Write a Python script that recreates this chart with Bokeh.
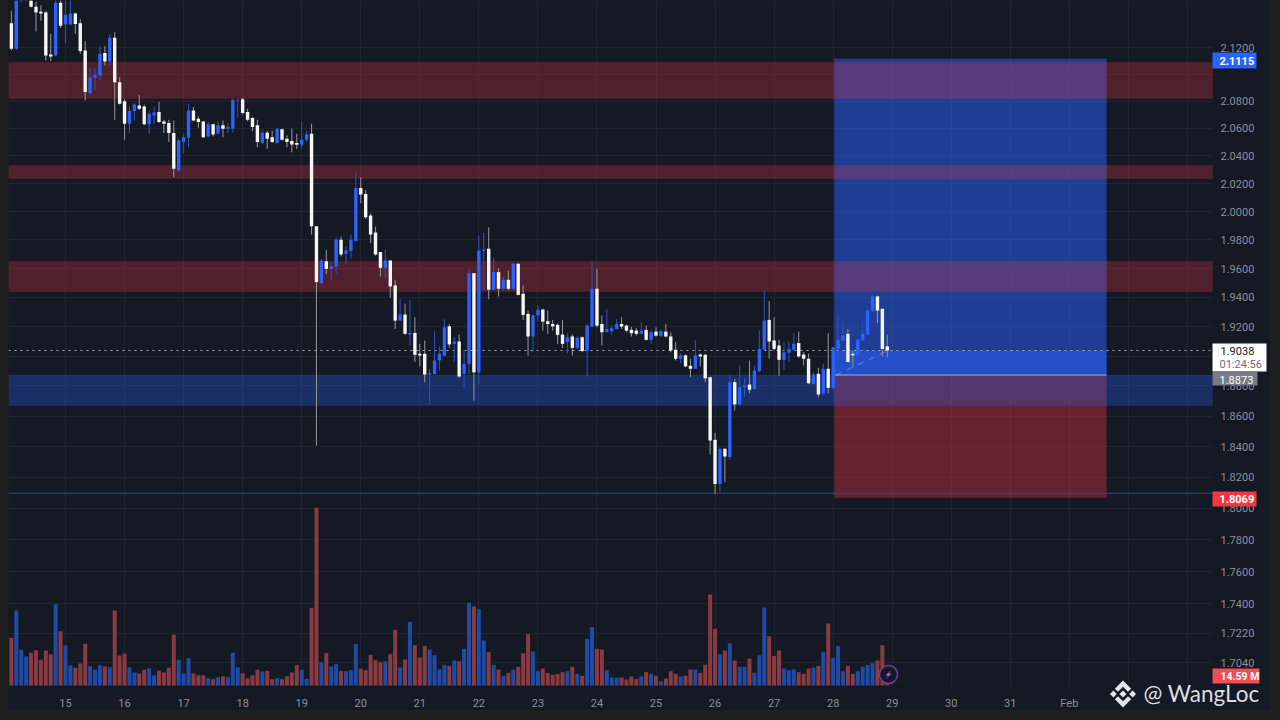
import math
from bokeh.embed import file_html
from bokeh.models import (BoxAnnotation, ColumnDataSource, FixedTicker, Label,
                          LinearScale, NumeralTickFormatter, PolyAnnotation, Range1d)
from bokeh.plotting import figure
from bokeh.resources import INLINE

# ---------- data: 2-hour candles, first candle is 11 bars before the 15th ----------
first_bar = -11
bars_per_day = 12
opens = [2.1383,2.1190,2.1553,2.1600,2.1580,2.1508,2.1470,2.1465,2.1148,2.1140,
 2.1540,2.1373,2.1373,2.1458,2.1383,2.1178,2.0859,2.0973,2.0990,2.1158,
 2.1095,2.1273,2.0941,2.0800,2.0634,2.0727,2.0768,2.0761,2.0630,2.0695,
 2.0720,2.0651,2.0639,2.0566,2.0294,2.0500,2.0532,2.0732,2.0671,2.0651,
 2.0541,2.0630,2.0561,2.0622,2.0598,2.0598,2.0805,2.0815,2.0720,2.0676,
 2.0622,2.0493,2.0568,2.0536,2.0493,2.0593,2.0524,2.0507,2.0493,2.0481,
 2.0517,2.0561,1.9897,1.9499,1.9651,1.9598,1.9614,1.9801,1.9703,1.9722,
 1.9792,2.0169,2.0126,1.9972,1.9853,1.9715,1.9605,1.9656,1.9483,1.9241,
 1.9283,1.9146,1.9157,1.9016,1.9016,1.8876,1.8880,1.8971,1.9005,1.9202,
 1.9083,1.9099,1.8880,1.8948,1.9568,1.8891,1.9722,1.9738,1.9453,1.9575,
 1.9460,1.9522,1.9460,1.9633,1.9425,1.9287,1.9133,1.9276,1.9317,1.9237,
 1.9218,1.9212,1.9146,1.9094,1.9133,1.9056,1.9128,1.9034,1.9200,1.9460,
 1.9218,1.9162,1.9169,1.9184,1.9218,1.9207,1.9178,1.9173,1.9151,1.9178,
 1.9110,1.9166,1.9137,1.9166,1.9133,1.9043,1.8982,1.9005,1.8935,1.8915,
 1.9011,1.9009,1.8858,1.8444,1.8157,1.8385,1.8331,1.8825,1.8677,1.8791,
 1.8809,1.8780,1.8899,1.9043,1.9246,1.9106,1.9072,1.8975,1.9023,1.9043,
 1.9088,1.9011,1.8982,1.8813,1.8881,1.8747,1.8915,1.8787,1.9049,1.9106,
 1.9151,1.9016,1.9005,1.9106,1.9146,1.9306,1.9407,1.9322,1.9066]
closes = [2.1190,2.1583,2.1628,2.1700,2.1508,2.1465,2.1458,2.1140,2.1133,2.1540,
 2.1365,2.1448,2.1458,2.1378,2.1173,2.0867,2.0973,2.0993,2.1153,2.1095,
 2.1273,2.0941,2.0780,2.0634,2.0727,2.0776,2.0744,2.0630,2.0707,2.0717,
 2.0646,2.0634,2.0566,2.0306,2.0512,2.0536,2.0732,2.0658,2.0646,2.0536,
 2.0630,2.0556,2.0622,2.0598,2.0610,2.0810,2.0810,2.0712,2.0663,2.0610,
 2.0500,2.0568,2.0524,2.0500,2.0598,2.0517,2.0500,2.0483,2.0481,2.0517,
 2.0556,1.9897,1.9506,1.9656,1.9598,1.9614,1.9804,1.9698,1.9726,1.9801,
 2.0169,2.0122,1.9960,1.9839,1.9698,1.9605,1.9656,1.9476,1.9241,1.9283,
 1.9151,1.9157,1.9009,1.9005,1.8876,1.8885,1.8971,1.9016,1.9196,1.9079,
 1.9099,1.8863,1.8948,1.9568,1.8891,1.9726,1.9731,1.9453,1.9575,1.9460,
 1.9522,1.9460,1.9633,1.9418,1.9280,1.9133,1.9276,1.9315,1.9234,1.9218,
 1.9202,1.9144,1.9083,1.9128,1.9056,1.9124,1.9034,1.9207,1.9460,1.9207,
 1.9162,1.9184,1.9189,1.9218,1.9200,1.9173,1.9155,1.9151,1.9173,1.9110,
 1.9162,1.9139,1.9169,1.9133,1.9038,1.8982,1.9005,1.8931,1.8915,1.9005,
 1.8998,1.8851,1.8439,1.8157,1.8385,1.8335,1.8825,1.8677,1.8791,1.8802,
 1.8774,1.8903,1.9049,1.9241,1.9099,1.9049,1.8975,1.9027,1.9049,1.9083,
 1.8998,1.8982,1.8818,1.8877,1.8743,1.8915,1.8787,1.9060,1.9110,1.9140,
 1.8960,1.9005,1.9110,1.9151,1.9310,1.9407,1.9310,1.9049,1.9038]
highs = [2.1478,2.1615,2.1700,2.1780,2.1615,2.1548,2.1520,2.1478,2.1303,2.1565,
 2.1590,2.1578,2.1565,2.1465,2.1415,2.1248,2.1048,2.1045,2.1210,2.1210,
 2.1303,2.1315,2.0978,2.0817,2.0761,2.0785,2.0846,2.0776,2.0732,2.0761,
 2.0795,2.0663,2.0663,2.0658,2.0524,2.0561,2.0781,2.0756,2.0688,2.0653,
 2.0646,2.0634,2.0653,2.0658,2.0639,2.0817,2.0812,2.0825,2.0744,2.0683,
 2.0663,2.0590,2.0580,2.0585,2.0605,2.0598,2.0549,2.0598,2.0561,2.0653,
 2.0585,2.0634,1.9897,1.9666,1.9731,1.9644,1.9815,1.9825,1.9754,1.9839,
 2.0287,2.0246,2.0155,1.9988,1.9895,1.9715,1.9731,1.9656,1.9522,1.9391,
 1.9356,1.9384,1.9264,1.9083,1.9105,1.8915,1.9169,1.9065,1.9250,1.9218,
 1.9128,1.9146,1.9043,1.9591,1.9568,1.9831,1.9850,1.9890,1.9674,1.9602,
 1.9540,1.9586,1.9637,1.9637,1.9483,1.9310,1.9283,1.9343,1.9322,1.9310,
 1.9246,1.9223,1.9246,1.9155,1.9146,1.9133,1.9133,1.9218,1.9644,1.9598,
 1.9276,1.9322,1.9207,1.9253,1.9264,1.9214,1.9200,1.9191,1.9230,1.9207,
 1.9173,1.9196,1.9178,1.9218,1.9162,1.9095,1.9020,1.9011,1.8982,1.9110,
 1.9020,1.9016,1.8862,1.8488,1.8396,1.8391,1.8873,1.8847,1.8935,1.8854,
 1.8971,1.8937,1.9173,1.9448,1.9375,1.9264,1.9110,1.9095,1.9099,1.9155,
 1.9166,1.9027,1.9016,1.8892,1.8922,1.8948,1.9155,1.9060,1.9283,1.9246,
 1.9184,1.9038,1.9117,1.9241,1.9322,1.9414,1.9414,1.9322,1.9146]
lows = [2.1178,2.1183,2.1545,2.1580,2.1503,2.1323,2.1403,2.1103,2.1098,2.1133,
 2.1348,2.1233,2.1373,2.1303,2.1153,2.0805,2.0849,2.0879,2.0953,2.1065,
 2.1065,2.0663,2.0775,2.0517,2.0566,2.0658,2.0737,2.0622,2.0561,2.0630,
 2.0639,2.0566,2.0500,2.0246,2.0282,2.0420,2.0463,2.0653,2.0605,2.0529,
 2.0536,2.0541,2.0556,2.0536,2.0566,2.0566,2.0678,2.0702,2.0653,2.0580,
 2.0463,2.0483,2.0451,2.0493,2.0488,2.0512,2.0463,2.0427,2.0449,2.0451,
 2.0500,1.9838,1.8406,1.9490,1.9563,1.9517,1.9563,1.9684,1.9633,1.9668,
 1.9792,2.0060,1.9948,1.9778,1.9690,1.9545,1.9529,1.9398,1.9184,1.9237,
 1.9146,1.9072,1.8960,1.8930,1.8825,1.8676,1.8876,1.8903,1.8998,1.9056,
 1.8960,1.8854,1.8787,1.8880,1.8702,1.8813,1.9448,1.9387,1.9448,1.9407,
 1.9448,1.9448,1.9453,1.9414,1.9246,1.9005,1.9027,1.9241,1.9173,1.9151,
 1.9173,1.9083,1.9056,1.9020,1.9005,1.9050,1.9027,1.8863,1.9196,1.9196,
 1.9072,1.9162,1.9146,1.9180,1.9184,1.9162,1.9133,1.9140,1.9146,1.9106,
 1.9083,1.9133,1.9128,1.9128,1.9027,1.8971,1.8953,1.8926,1.8858,1.8915,
 1.8931,1.8824,1.8348,1.8092,1.8110,1.8168,1.8315,1.8637,1.8670,1.8725,
 1.8752,1.8774,1.8892,1.9038,1.8982,1.9038,1.8869,1.8906,1.8960,1.9038,
 1.8989,1.8937,1.8813,1.8809,1.8725,1.8743,1.8752,1.8770,1.9043,1.9106,
 1.8960,1.8926,1.8998,1.9106,1.9140,1.9299,1.9223,1.8998,1.8993]
volumes = [35.75,56.25,26.75,21.75,24.5,26.5,19.25,26,23.5,61,
 40.75,30,15.25,13.25,16.5,31.25,14.5,11.75,15.25,14.5,
 13.75,56.25,22.5,23.75,13.75,9.75,9,11.75,13,7.5,
 11,9.75,13.25,38,19.25,9,20.5,9.25,7.75,7.75,
 5.5,4.75,6.25,7,6.25,24.5,13.75,9.25,5.5,7.75,
 11.75,10.5,11,4.75,5.5,4.75,7,9.75,15.25,11.75,
 5,58.25,133.25,17.5,24.25,14.25,16,10.75,10.75,11.5,
 31,12.75,11.5,23,19,17.5,18.25,23.5,41.75,13.5,
 19.5,47.75,30.25,21,29.75,27,22.75,12,15.5,14.75,
 18.75,18.25,27.5,62,59.25,57.25,33.75,25,15.5,12,
 7.25,9.5,12,14,24.25,38.5,25.5,10.75,12.75,9.5,
 8,8.75,10,10.75,14,8.75,7.25,35,43.75,27.5,
 27,11.5,6,6,6,4.5,6.75,4.75,6.75,10,
 8.75,7.25,3.25,5.25,10.75,8.75,6.75,7.25,12,12,
 9.5,15.5,68.25,42.5,23.5,26.25,31.75,18.75,14,14,
 20.25,9.5,22.75,58.5,37,22.25,26.25,12.75,11.5,12,
 10,8.75,12.75,13.5,14.75,25,46.5,20.75,29.5,10.75,
 14.75,8.75,10.75,14,15.5,16.75,18.75,30.25,14.59]

zone_tops = [2.1087, 2.0330, 1.9649]
zone_bottoms = [2.0820, 2.0237, 1.9441]
demand_top = [1.8873]
demand_bottom = [1.8670]
target_price = 2.1115
entry_price = 1.8873
stop_price = 1.8069
last_price = 1.9038
support_price = 1.8097
box_start, box_end = 28.02, 32.63
trend_x = [28.05, 28.93]
trend_y = [1.8873, 1.9038]

price_ticks = [2.12,2.08,2.06,2.04,2.02,2.00,1.98,1.96,1.94,1.92,1.88,1.86,1.84,1.82,1.80,1.78,1.76,1.74,1.722,1.704]
grid_prices = price_ticks + [2.10, 1.90]
day_ticks = list(range(15, 33))
day_labels = ["15","16","17","18","19","20","21","22","23","24","25","26","27","28","29","30","31","Feb"]
grid_days = day_ticks + [33, 34]

# ---------- colours ----------
BG = "#151924"; FRAME = "#1f1f1f"; GRID = "#20242f"; TXT = "#8b8e96"
UP = "#2962ff"; DOWN = "#f5f5f5"; RED = "#f23645"

# ---------- helpers for page furniture only (px in the 1280x720 picture) ----------
PX_DAY = 59.05; PX_LOG = 2817.0
def x_at(px): return 15 + (px - 65) / PX_DAY
def y_at(py): return 2.12 * math.exp(-(py - 47) / PX_LOG)

p = figure(width=1262, height=710, output_backend="svg", toolbar_location=None,
           y_axis_type="log", x_axis_location="below", y_axis_location="right", margin=(0, 0, 0, 8),
           x_range=Range1d(x_at(8), x_at(1270)), y_range=Range1d(y_at(710), y_at(0)),
           background_fill_color=BG, border_fill_color=BG,
           min_border_left=0, min_border_top=0, min_border_right=0, min_border_bottom=0)
p.outline_line_color = None
p.extra_y_ranges = {"vol": Range1d(-18.75, 513.75)}
p.extra_y_scales = {"vol": LinearScale()}

p.xgrid[0].ticker = FixedTicker(ticks=grid_days)
p.ygrid[0].ticker = FixedTicker(ticks=grid_prices)
p.xgrid[0].grid_line_color = GRID
p.ygrid[0].grid_line_color = GRID
p.xgrid[0].grid_line_width = 1
p.ygrid[0].grid_line_width = 1

ax = p.xaxis[0]
ax.fixed_location = y_at(686)
ax.ticker = FixedTicker(ticks=day_ticks)
ax.major_label_overrides = dict(zip(day_ticks, day_labels))
ax.major_label_standoff = 4
ay = p.yaxis[0]
ay.fixed_location = x_at(1212)
ay.ticker = FixedTicker(ticks=price_ticks)
ay.formatter = NumeralTickFormatter(format="0.0000")
ay.major_label_standoff = 2
for a in (ax, ay):
    a.axis_line_color = None
    a.major_tick_line_color = None
    a.minor_tick_line_color = None
    a.major_label_text_color = TXT
    a.major_label_text_font = "Roboto"
    a.major_label_text_font_size = "11px"

# the price and time scales have no grid behind them
p.quad(left=[x_at(1212)], right=[x_at(1270)], top=[y_at(0)], bottom=[y_at(710)],
       fill_color=BG, line_color=None)
p.quad(left=[x_at(8)], right=[x_at(1212)], top=[y_at(686)], bottom=[y_at(710)],
       fill_color=BG, line_color=None)

# position tool
p.quad(left=[box_start], right=[box_end], top=[target_price], bottom=[entry_price],
       fill_color=UP, fill_alpha=0.5, line_color=None)
p.quad(left=[box_start], right=[box_end], top=[entry_price], bottom=[stop_price],
       fill_color=RED, fill_alpha=0.37, line_color=None)
p.quad(left=[box_start], right=[box_end], top=[last_price], bottom=[entry_price],
       fill_color=UP, fill_alpha=0.5, line_color=None)

# zones
p.quad(left=x_at(8), right=x_at(1212), top=zone_tops, bottom=zone_bottoms,
       fill_color=RED, fill_alpha=0.27, line_color=RED, line_alpha=0.12, line_width=1)
p.quad(left=x_at(8), right=x_at(1212), top=demand_top, bottom=demand_bottom,
       fill_color=UP, fill_alpha=0.3, line_color=UP, line_alpha=0.1, line_width=1)

# volume
bar_x = [15 + (first_bar + i) / bars_per_day for i in range(len(opens))]
is_up = [c >= o for o, c in zip(opens, closes)]
src = ColumnDataSource(dict(
    x=bar_x, o=opens, c=closes, h=highs, l=lows, v=volumes,
    top=[max(o, c) for o, c in zip(opens, closes)],
    bot=[min(o, c) for o, c in zip(opens, closes)],
    body=[UP if u else DOWN for u in is_up],
    wick=["#2b50b8" if u else "#8d8e92" for u in is_up],
    vol=["#1f4aa6" if u else "#8a3a41" for u in is_up],
))
p.vbar(x="x", width=4 / PX_DAY, top="v", bottom=0, source=src, y_range_name="vol",
       fill_color="vol", line_color=None)

# price lines
p.segment(x0=[x_at(8)], x1=[x_at(1212)], y0=[support_price], y1=[support_price],
          line_color="#2a46a0", line_width=1)
p.segment(x0=[x_at(8)], x1=[x_at(1212)], y0=[last_price], y1=[last_price],
          line_color="#a3a6ad", line_width=1, line_dash="dotted")
p.segment(x0=[box_start], x1=[box_end], y0=[entry_price], y1=[entry_price],
          line_color="#a9adba", line_width=1)
p.line(x=trend_x, y=trend_y, line_color="#c9ccd4", line_alpha=0.45, line_width=1, line_dash="dashed")

# candles
p.segment(x0="x", x1="x", y0="h", y1="l", source=src, line_color="wick", line_width=1.1)
p.vbar(x="x", width=3.4 / PX_DAY, top="top", bottom="bot", source=src,
       fill_color="body", line_color=None)

# alert icon on the volume pane
p.scatter(x=[x_at(888)], y=[8.25], y_range_name="vol", marker="circle", size=18,
          fill_color=BG, line_color="#6f3d94", line_width=1.5)
bolt = [(3,-5),(-3,1),(0,1),(-3,5),(3,-1),(0,-1)]
p.add_layout(PolyAnnotation(xs=[x_at(888 + a) for a, b in bolt], ys=[y_at(674 + b) for a, b in bolt],
                            fill_color="#c060d0", fill_alpha=1, line_color=None))

# price tags
def tag(x1, y0, y1, fill):
    p.add_layout(BoxAnnotation(left=x_at(1212), right=x_at(x1), top=y_at(y0), bottom=y_at(y1),
                               fill_color=fill, fill_alpha=1, line_color=None))
def text(s, px, py, color, size="11px", style="normal", font="Roboto"):
    p.add_layout(Label(x=x_at(px), y=y_at(py), text=s, text_color=color, text_font=font,
                       text_font_size=size, text_font_style=style, text_baseline="middle"))

tag(1256, 52, 68, "#2962ff"); text("2.1115", 1219, 60, "#ffffff", style="bold")
tag(1266, 343, 371, "#ffffff"); text("1.9038", 1220, 350, "#131722")
text("01:24:56", 1219, 364, "#6a6d78")
tag(1257, 371, 385, "#787b86"); text("1.8873", 1219, 379, "#ffffff")
tag(1256, 491, 506, "#f23645"); text("1.8069", 1219, 498, "#ffffff", style="bold")
tag(1259, 668, 683, "#ef4d58"); text("14.59 M", 1220, 676, "#ffffff", size="10.5px", style="bold")

# watermark
logo_c = (1122.5, 693.5)
logo_shapes = [
    [(0,-3.6),(3.6,0),(0,3.6),(-3.6,0)],
    [(-9.6,-3.4),(-6.2,0),(-9.6,3.4),(-13,0)],
    [(9.6,-3.4),(13,0),(9.6,3.4),(6.2,0)],
    [(0,-13.5),(8.2,-5.3),(5,-2.2),(0,-7.2),(-5,-2.2),(-8.2,-5.3)],
    [(0,13.5),(8.2,5.3),(5,2.2),(0,7.2),(-5,2.2),(-8.2,5.3)],
]
for shape in logo_shapes:
    p.add_layout(PolyAnnotation(xs=[x_at(logo_c[0] + a) for a, b in shape],
                                ys=[y_at(logo_c[1] + b) for a, b in shape],
                                fill_color="#e4e5e9", fill_alpha=1, line_color=None))
text("@ WangLoc", 1143, 693, "#dcdde1", size="22.5px", font="Lato")

html = file_html(p, INLINE)
html = html.replace("</head>", "<style>html,body{background:%s;}</style></head>" % FRAME, 1)
open("out.html", "w").write(html)
